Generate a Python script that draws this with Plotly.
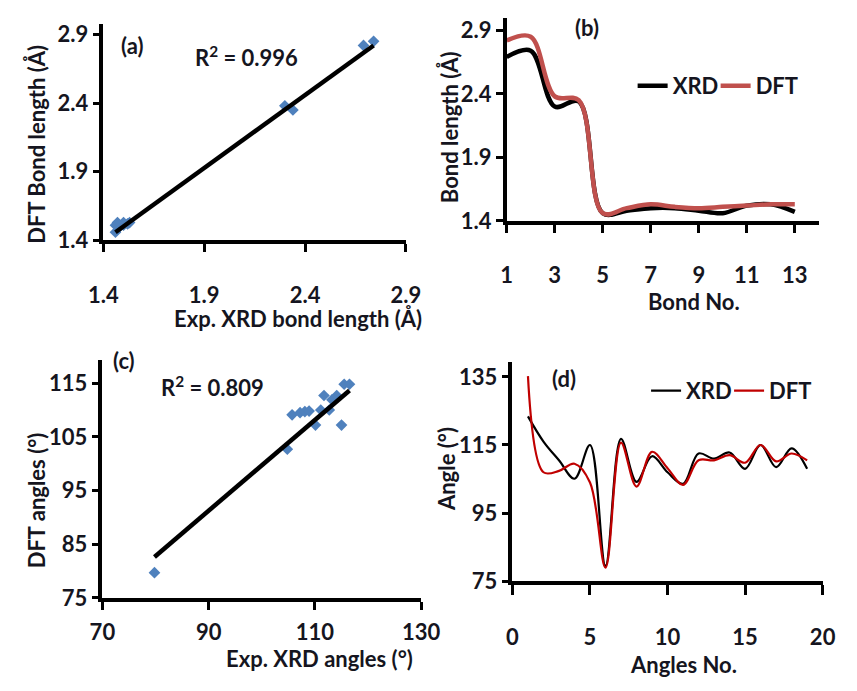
import numpy as np
import plotly.graph_objects as go

# (a)/(b): bond lengths (Å), experimental XRD vs DFT
bond_no = list(range(1, 14))
bond_xrd = [2.69, 2.74, 2.30, 2.34, 1.46, 1.48, 1.50, 1.50, 1.48, 1.46, 1.52, 1.53, 1.47]
bond_dft = [2.82, 2.85, 2.38, 2.35, 1.46, 1.50, 1.53, 1.51, 1.50, 1.51, 1.52, 1.53, 1.53]

# (c): angle correlation, XRD vs DFT (°)
corr_xrd_angles = [79.8, 104.8, 105.7, 107.2, 108.1, 108.9, 110.1, 111.1,
                   111.7, 112.7, 113.2, 114.1, 115.0, 115.5, 116.5]
corr_dft_angles = [79.7, 102.7, 109.1, 109.5, 109.7, 109.8, 107.2, 110.0,
                   112.7, 110.0, 111.9, 112.7, 107.2, 114.8, 114.8]

# linear trend lines (slope, intercept) of the two correlations
bond_trend = (1.063, -0.093)
angle_trend = (0.845, 15.2)

# (d): angles by index (°)
angle_no = list(range(1, 20))
angle_xrd = [123.4, 116.0, 110.5, 105.1, 115.0, 79.5, 116.8, 104.2, 111.7, 107.0,
             103.6, 112.5, 111.0, 112.8, 108.0, 115.0, 108.5, 114.0, 108.0]
angle_dft = [135.2, 107.0, 107.4, 109.5, 104.0, 79.0, 115.7, 102.8, 113.0, 108.2,
             103.3, 110.5, 110.5, 112.0, 109.8, 115.0, 110.2, 112.5, 110.5]

r2_bond_label = "R<sup>2</sup> = 0.996"
r2_angle_label = "R<sup>2</sup> = 0.809"

W, H = 857, 691
FONT = "Lato, 'Open Sans', sans-serif"
FS = 22
TXT = "#151520"
BLUE = "#4F81BD"


def px(x, y):
    return x / W, 1 - y / H


def trend(x, coef):
    k, b = coef
    xs = np.array([min(x), max(x)])
    return xs, k * xs + b


fig = go.Figure()

# (a) bond length scatter + linear trend
fig.add_trace(go.Scatter(x=bond_xrd, y=bond_dft, mode="markers", xaxis="x", yaxis="y",
                         marker=dict(symbol="diamond", size=9, color=BLUE),
                         showlegend=False))
fx, fy = trend(bond_xrd, bond_trend)
fig.add_trace(go.Scatter(x=fx, y=fy, mode="lines", xaxis="x", yaxis="y",
                         line=dict(color="black", width=4.5), showlegend=False))

# (b) bond length profiles
fig.add_trace(go.Scatter(x=bond_no, y=bond_xrd, mode="lines", name="XRD", xaxis="x2", yaxis="y2",
                         line=dict(color="black", width=4.5, shape="spline"), legend="legend"))
fig.add_trace(go.Scatter(x=bond_no, y=bond_dft, mode="lines", name="DFT", xaxis="x2", yaxis="y2",
                         line=dict(color="#C0504D", width=4.5, shape="spline"), legend="legend"))

# (c) angle scatter + linear trend
fig.add_trace(go.Scatter(x=corr_xrd_angles, y=corr_dft_angles, mode="markers", xaxis="x3", yaxis="y3",
                         marker=dict(symbol="diamond", size=9, color=BLUE),
                         showlegend=False))
gx, gy = trend(corr_xrd_angles, angle_trend)
fig.add_trace(go.Scatter(x=gx, y=gy, mode="lines", xaxis="x3", yaxis="y3",
                         line=dict(color="black", width=4.5), showlegend=False))

# (d) angle profiles
fig.add_trace(go.Scatter(x=angle_no, y=angle_xrd, mode="lines", name="XRD", xaxis="x4", yaxis="y4",
                         line=dict(color="black", width=2.2, shape="spline"), legend="legend2"))
fig.add_trace(go.Scatter(x=angle_no, y=angle_dft, mode="lines", name="DFT", xaxis="x4", yaxis="y4",
                         line=dict(color="#C00000", width=2.2, shape="spline"), legend="legend2"))

font = dict(family=FONT, size=FS, color=TXT, weight=700)


def axis(domain, rng, tickvals, anchor, standoff, ticklen=8):
    return dict(domain=domain, range=rng, tickvals=tickvals, anchor=anchor,
                showline=True, linecolor="black", linewidth=3.5,
                ticks="outside", ticklen=ticklen, tickwidth=3, tickcolor="black",
                showgrid=False, zeroline=False, tickfont=font,
                ticklabelstandoff=standoff, fixedrange=True)


layout = dict(
    width=W, height=H, margin=dict(l=0, r=0, t=0, b=0),
    paper_bgcolor="white", plot_bgcolor="white",
    xaxis=axis([92 / W, 407 / W], [1.4, 2.9], [1.4, 1.9, 2.4, 2.9], "y", 24),
    yaxis=axis([1 - 243 / H, 1 - 21 / H], [1.4, 2.98], [1.4, 1.9, 2.4, 2.9], "x", 0, 7),
    xaxis2=axis([512 / W, 837 / W], [1, 14], [1, 3, 5, 7, 9, 11, 13], "y2", 24),
    yaxis2=axis([1 - 223 / H, 1 - 15 / H], [1.4, 3.0], [1.4, 1.9, 2.4, 2.9], "x2", 0, 7),
    xaxis3=axis([91 / W, 423 / W], [70, 130], [70, 90, 110, 130], "y3", 4),
    yaxis3=axis([1 - 609 / H, 1 - 365 / H], [75, 119.4], [75, 85, 95, 105, 115], "x3", 0, 7),
    xaxis4=axis([518 / W, 841 / W], [0, 20], [0, 5, 10, 15, 20], "y4", 24, 10),
    yaxis4=axis([1 - 592 / H, 1 - 367 / H], [75, 139.5], [75, 95, 115, 135], "x4", 0, 7),
    legend=dict(orientation="h", x=816 / W, y=1 - 85 / H, xanchor="right", yanchor="middle",
                font=font, bgcolor="rgba(0,0,0,0)", itemwidth=30, tracegroupgap=0,
                entrywidth=38, entrywidthmode="pixels"),
    legend2=dict(orientation="h", x=830 / W, y=1 - 397 / H, xanchor="right", yanchor="middle",
                 font=font, bgcolor="rgba(0,0,0,0)", itemwidth=30, tracegroupgap=0,
                 entrywidth=38, entrywidthmode="pixels"),
)
fig.update_layout(**layout)

labels = [
    ("Exp. XRD bond length (Å)", 295, 323, 0),
    ("DFT Bond length (Å)", 23, 145, -90),
    ("Bond No.", 707, 306, 0),
    ("Bond length (Å)", 452, 127, -90),
    ("Exp. XRD angles (°)", 317, 671, 0),
    ("DFT angles (°)", 22, 509, -90),
    ("Angles No.", 696, 677, 0),
    ("Angle (°)", 450, 477, -90),
    ("(a)", 122, 43, 0),
    ("(b)", 596, 25, 0),
    ("(c)", 114, 366, 0),
    ("(d)", 572, 384, 0),
    (r2_bond_label, 241, 55, 0),
    (r2_angle_label, 206, 393, 0),
]
for text, x, y, ang in labels:
    ax, ay = px(x, y)
    fig.add_annotation(text=text, x=ax, y=ay, xref="paper", yref="paper",
                       showarrow=False, textangle=ang, xanchor="center", yanchor="middle",
                       font=font)

fig.write_html("out.html", config={"displayModeBar": False})
